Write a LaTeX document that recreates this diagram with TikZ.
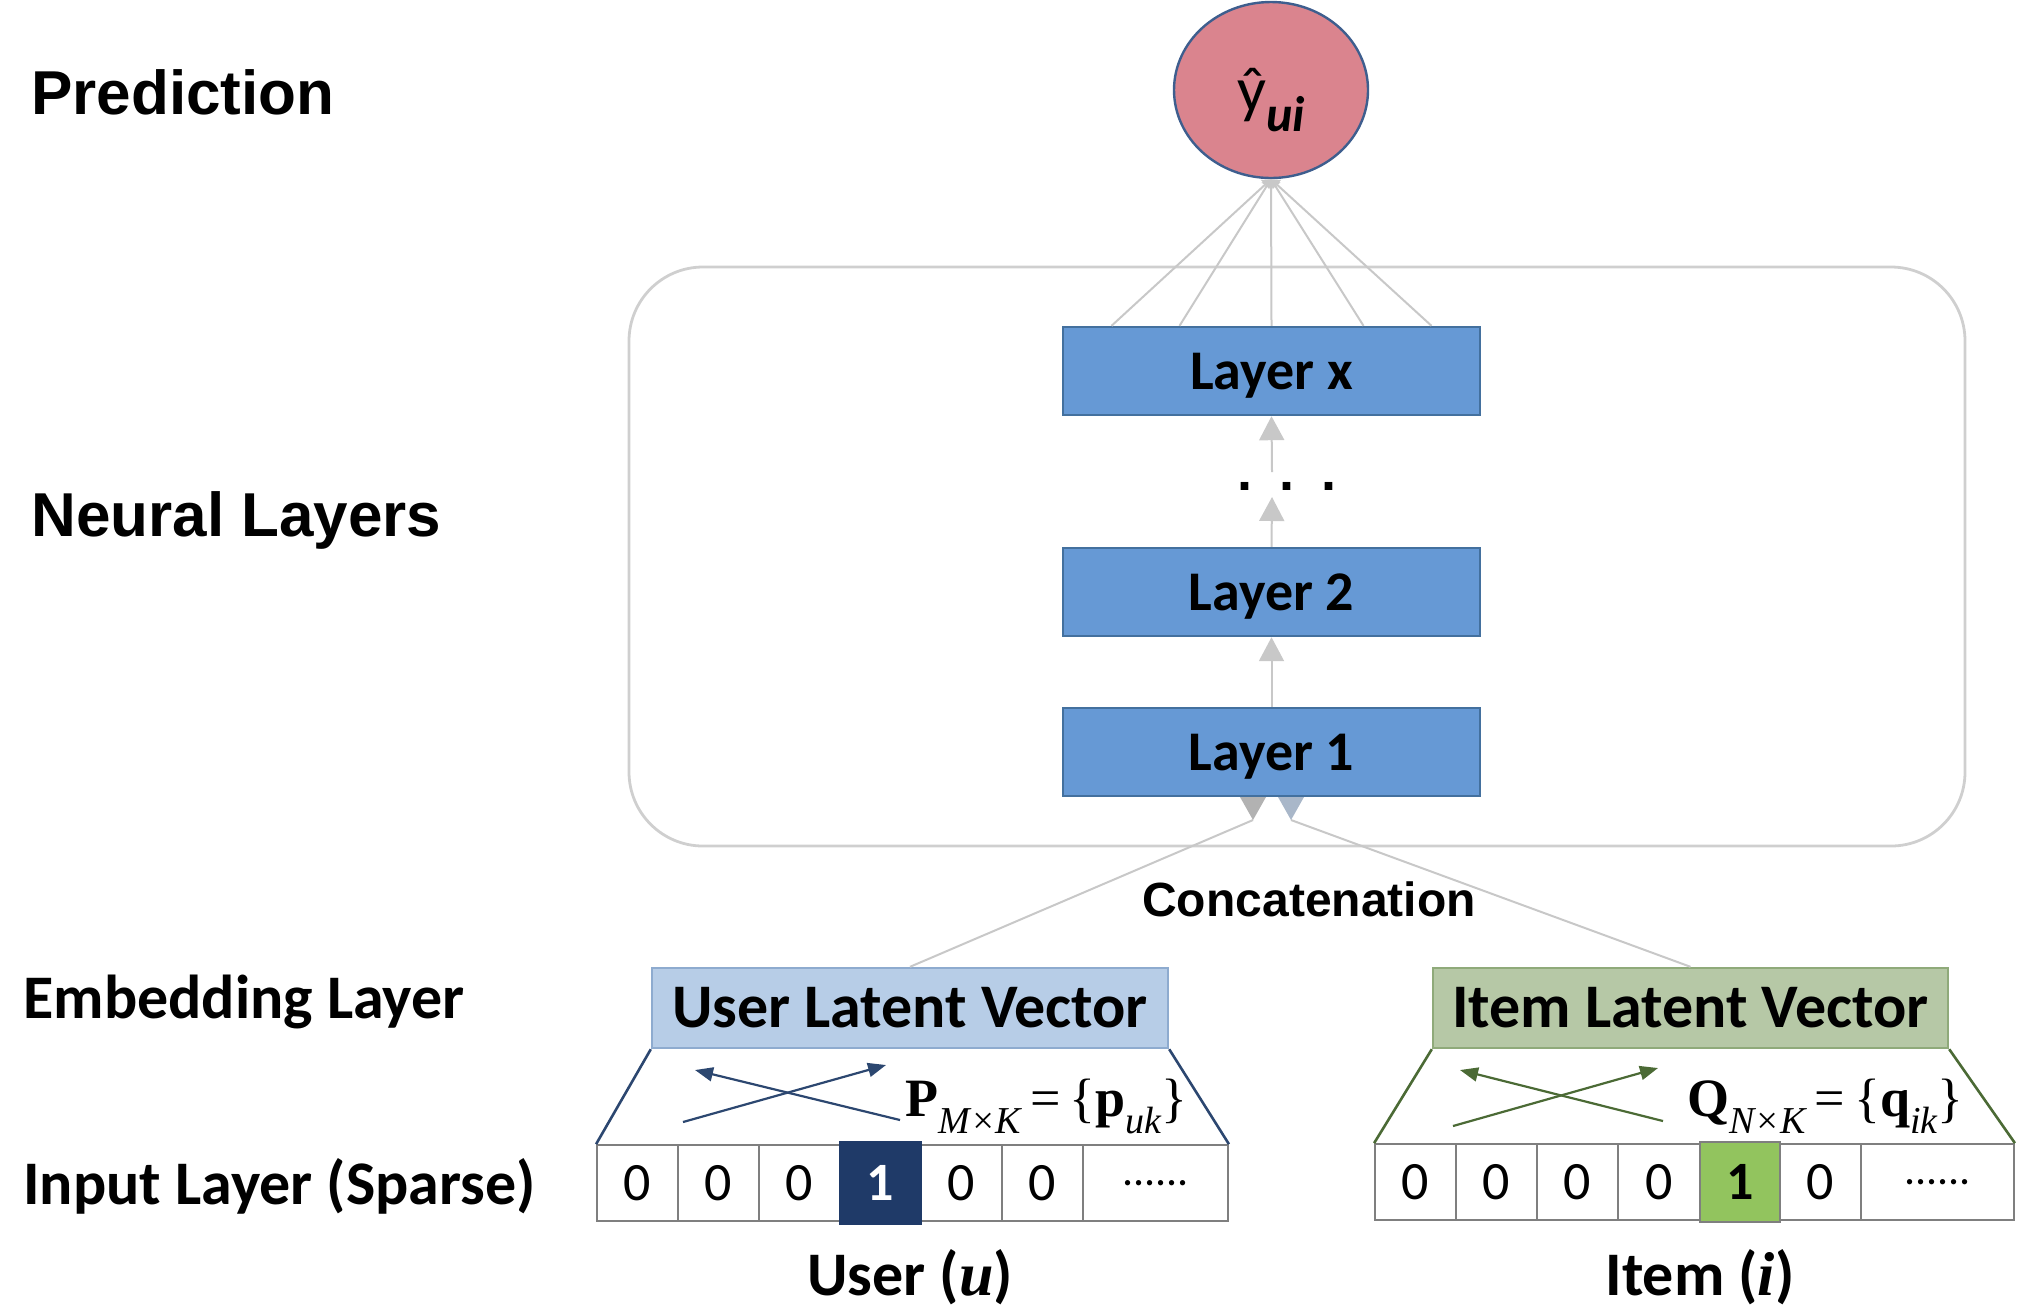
\documentclass[tikz,border=0pt]{standalone}
\usepackage{fontspec}
\usetikzlibrary{arrows.meta,shapes.geometric}
\newfontfamily\arialf{Liberation Sans}
\newfontfamily\calf{Carlito}
\newfontfamily\timesf{Liberation Serif}
\definecolor{predfill}{HTML}{DA848E}
\definecolor{predborder}{HTML}{3E5E8E}
\definecolor{layerfill}{HTML}{6699D5}
\definecolor{layerborder}{HTML}{43709E}
\definecolor{linegray}{HTML}{C8C8C8}
\definecolor{boxgray}{HTML}{CFCFCF}
\definecolor{ufill}{HTML}{B7CDE7}
\definecolor{uborder}{HTML}{8EABCF}
\definecolor{ifill}{HTML}{B6C8A6}
\definecolor{iborder}{HTML}{8FAA7A}
\definecolor{navy}{HTML}{1F3A68}
\definecolor{ugreen}{HTML}{92C45E}
\definecolor{uline}{HTML}{2C4770}
\definecolor{iline}{HTML}{4B6A35}
\definecolor{cellgray}{HTML}{7F7F7F}
\definecolor{triL}{HTML}{B2B2B2}
\definecolor{triR}{HTML}{A9B7C9}
\newcommand{\mysub}[1]{\raisebox{-0.32em}{\fontsize{19}{19}\selectfont #1}}
\begin{document}
\begin{tikzpicture}[x=0.5pt,y=-0.5pt,
  lefttitle/.style={anchor=west, inner sep=0pt, font=\arialf\bfseries\fontsize{31}{31}\selectfont},
  leftsub/.style={anchor=west, inner sep=0pt, font=\calf\bfseries\fontsize{31}{31}\selectfont},
  layerbox/.style={draw=layerborder, fill=layerfill, line width=1.2pt, minimum width=208.5pt, minimum height=44pt, inner sep=0pt, text depth=0pt, font=\calf\bfseries\fontsize{28}{28}\selectfont},
  conn/.style={draw=linegray, line width=1pt},
  uparr/.style={conn, -{Triangle[width=12.5pt,length=12pt,fill=linegray]}},
  cell/.style={draw=cellgray, line width=0.9pt, minimum width=40.5pt, minimum height=38pt, inner sep=0pt, font=\calf\fontsize{27}{27}\selectfont},
  vecbox/.style={line width=1.2pt, minimum width=258pt, minimum height=40pt, inner sep=0pt, font=\calf\bfseries\fontsize{31}{31}\selectfont},
  crossarr/.style={line width=1.1pt, -{Triangle[width=7pt,length=9pt]}}
]
\useasboundingbox (0,0) rectangle (2022,1314);

% left labels
\node[lefttitle] (tPred) at (31,92) {Prediction};
\node[lefttitle] (tNeural) at (31,520) {Neural Layers};
\node[leftsub] (tEmb) at (23,1002) {Embedding Layer};
\node[leftsub] (tInp) at (23,1186) {Input Layer (Sparse)};

% neural layers container
\node[draw=boxgray, line width=1.4pt, rounded corners=37pt, minimum width=668pt, minimum height=289.5pt, inner sep=0pt] (nl) at (1297,556.5) {};

% prediction
\node[ellipse, draw=predborder, fill=predfill, line width=1.2pt, minimum width=97pt, minimum height=88pt, inner sep=0pt] (pred) at (1271,90) {};
\node[inner sep=0pt, font=\calf\fontsize{32}{32}\selectfont] (predtxt) at (1271,100)
  {ŷ\raisebox{-0.3em}{\bfseries\itshape\fontsize{25}{25}\selectfont ui}};

% layers
\node[layerbox] (lx) at (1271.5,371) {Layer x};
\node[layerbox] (l2) at (1271.5,592) {Layer 2};
\node[layerbox] (l1) at (1271.5,752) {Layer 1};

% lines to prediction
\foreach \s in {-80,-46,0,46,80}
  \draw[conn, -{Triangle[width=6pt,length=4pt,fill=linegray]}] ([xshift=\s pt]lx.north) -- (pred.south);

% vertical arrows
\node[inner sep=0pt, font=\arialf\bfseries\fontsize{27}{27}\selectfont] (dots) at (1287,486) {.\,\,\,.\,\,\,.};
\coordinate (dlow) at (1272,497);
\coordinate (dhigh) at (1272,472);
\draw[uparr] (l1.north) -- (l2.south);
\draw[uparr] (l2.north) -- (dlow);
\draw[uparr] (dhigh) -- (lx.south);

% embedding boxes
\node[vecbox, draw=uborder, fill=ufill] (ub) at (910,1008) {User Latent Vector};
\node[vecbox, draw=iborder, fill=ifill, minimum width=257.5pt] (ib) at (1690.5,1008) {Item Latent Vector};

% concatenation
\node[inner sep=0pt, font=\arialf\bfseries\fontsize{24}{24}\selectfont] (concat) at (1309,899) {Concatenation};
\coordinate (tipL) at (1253,820);
\coordinate (tipR) at (1291,820);
\draw[conn] (ub.north) -- (tipL);
\draw[conn] (ib.north) -- (tipR);
\fill[triL] (1240,797) -- (1266,797) -- (tipL) -- cycle;
\fill[triR] (1278,797) -- (1304,797) -- (tipR) -- cycle;

% user input row
\foreach \i/\x in {1/637.5,2/718.5,3/799.5,5/961.5,6/1042.5}
  \node[cell] (uc\i) at (\x,1183) {0};
\node[cell, minimum width=72.5pt] (uc7) at (1155.5,1183) {\raisebox{-3pt}{\fontsize{22}{22}\selectfont ......}};
\node[cell, draw=navy, fill=navy, text=white, minimum height=41.5pt, font=\calf\bfseries\fontsize{27}{27}\selectfont] (uc4) at (880.5,1183) {1};

% item input row
\foreach \i/\x/\w in {1/1415.5/40.5,2/1496.5/40.5,3/1577.5/40.5,4/1659/41,6/1820.5/40.5}
  \node[cell, minimum width=\w pt] (ic\i) at (\x,1182) {0};
\node[cell, minimum width=76.5pt] (ic7) at (1937.5,1182) {\raisebox{-3pt}{\fontsize{22}{22}\selectfont ......}};
\node[cell, fill=ugreen, minimum width=40pt, minimum height=40pt, font=\calf\bfseries\fontsize{27}{27}\selectfont] (ic5) at (1740,1182) {1};

% trapezoids
\draw[uline, line width=1.3pt] (ub.south west) -- (uc1.north west);
\draw[uline, line width=1.3pt] (ub.south east) -- (uc7.north east);
\draw[iline, line width=1.3pt] (ib.south west) -- (ic1.north west);
\draw[iline, line width=1.3pt] (ib.south east) -- (ic7.north east);

% cross arrows
\coordinate (ua1) at (683,1122); \coordinate (ua2) at (886,1065);
\coordinate (ub1) at (900,1120); \coordinate (ub2) at (695,1070);
\draw[crossarr, uline] (ua1) -- (ua2);
\draw[crossarr, uline] (ub1) -- (ub2);
\coordinate (ia1) at (1453,1126); \coordinate (ia2) at (1658,1068);
\coordinate (ib1) at (1663,1121); \coordinate (ib2) at (1460,1070);
\draw[crossarr, iline] (ia1) -- (ia2);
\draw[crossarr, iline] (ib1) -- (ib2);

% formulas
\node[anchor=base west, inner sep=0pt, font=\timesf\fontsize{27}{27}\selectfont] (pform) at (905,1116)
  {\textbf{P}\mysub{\itshape M×K}\,=\,\{\textbf{p}\mysub{\itshape uk}\}};
\node[anchor=base west, inner sep=0pt, font=\timesf\fontsize{27}{27}\selectfont] (qform) at (1687,1116)
  {\textbf{Q}\mysub{\itshape N×K}\,=\,\{\textbf{q}\mysub{\itshape ik}\}};

% bottom labels
\node[inner sep=0pt, font=\calf\bfseries\fontsize{31}{31}\selectfont] (ulab) at (910,1277) {User ({\timesf\bfseries\itshape u})};
\node[inner sep=0pt, font=\calf\bfseries\fontsize{31}{31}\selectfont] (ilab) at (1700,1277) {Item ({\timesf\bfseries\itshape i})};
\end{tikzpicture}
\end{document}
